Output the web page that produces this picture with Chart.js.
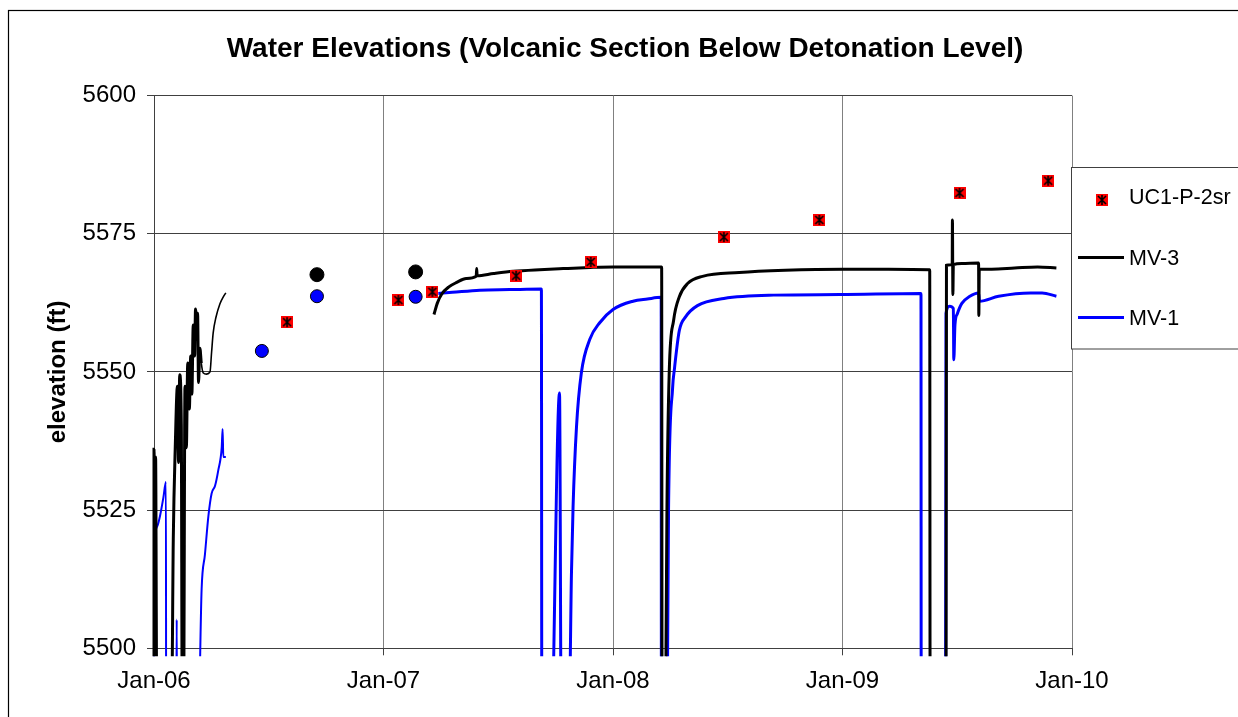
<!DOCTYPE html>
<html>
<head>
<meta charset="utf-8">
<title>Water Elevations</title>
<script src="https://cdn.jsdelivr.net/npm/chart.js@4.4.1/dist/chart.umd.min.js"></script>
<style>
  html, body { margin: 0; padding: 0; background: #fff; }
  #wrap { width: 1238px; height: 717px; }
</style>
</head>
<body>
<div id="wrap"><canvas id="elevChart" width="1238" height="717"></canvas></div>
<script>
// x values are decimal years, y values are elevation in ft
// 5480/5490 = trace runs off the bottom of the plot (clipped), null = no record
const xTickLabels = ['Jan-06', 'Jan-07', 'Jan-08', 'Jan-09', 'Jan-10'];

const uc1 = [
  [2006.580, 5559.0], [2007.065, 5563.0], [2007.213, 5564.5], [2007.578, 5567.4],
  [2007.903, 5569.9], [2008.483, 5574.4], [2008.899, 5577.5], [2009.510, 5582.4],
  [2009.896, 5584.6]
];

// hand measurements (not in legend)
const mv3Hand = [[2006.710, 5567.6], [2007.140, 5568.1]];
const mv1Hand = [[2006.470, 5553.8], [2006.710, 5563.7], [2007.140, 5563.6]];

const mv3 = [
  [2006.000, 5490], [2006.000, 5536.0], [2006.004, 5520.0], [2006.007, 5534.6], [2006.012, 5490],
  [2006.077, 5490], [2006.084, 5519.7], [2006.093, 5537.0], [2006.102, 5547.4], [2006.107, 5533.6],
  [2006.112, 5549.5], [2006.119, 5540.5], [2006.123, 5490], [2006.129, 5490], [2006.135, 5547.4],
  [2006.141, 5536.3], [2006.147, 5551.6], [2006.154, 5543.3], [2006.160, 5552.9], [2006.165, 5546.0],
  [2006.171, 5558.5], [2006.177, 5552.9], [2006.181, 5561.4], [2006.186, 5557.8], [2006.190, 5560.6],
  [2006.194, 5548.1], [2006.200, 5554.3], [2006.206, 5551.6], [2006.215, 5549.8], [2006.229, 5549.6],
  [2006.244, 5550.0], [2006.251, 5553.6], [2006.258, 5557.1], [2006.270, 5559.9], [2006.287, 5562.3],
  [2006.302, 5563.6], [2006.313, 5564.3],
  [2006.800, null],
  [2007.220, 5560.4], [2007.235, 5562.5], [2007.254, 5564.1], [2007.285, 5565.4], [2007.319, 5566.2],
  [2007.360, 5566.9], [2007.404, 5567.3], [2007.406, 5568.7], [2007.408, 5567.4], [2007.480, 5567.8],
  [2007.565, 5568.2], [2007.680, 5568.5], [2007.783, 5568.7], [2007.900, 5568.9], [2008.000, 5569.0],
  [2008.100, 5569.0], [2008.212, 5569.0], [2008.214, 5480],
  [2008.229, 5480], [2008.231, 5500.0], [2008.235, 5525.0], [2008.245, 5550.0], [2008.264, 5559.3],
  [2008.289, 5563.6], [2008.325, 5566.0], [2008.390, 5567.3], [2008.550, 5568.0], [2008.750, 5568.4],
  [2009.000, 5568.6], [2009.200, 5568.6], [2009.380, 5568.5], [2009.382, 5480],
  [2009.451, 5480], [2009.453, 5569.3], [2009.478, 5569.4], [2009.479, 5577.5], [2009.481, 5564.0],
  [2009.483, 5569.4], [2009.520, 5569.6], [2009.593, 5569.7], [2009.594, 5560.2], [2009.596, 5568.6],
  [2009.650, 5568.6], [2009.750, 5568.8], [2009.850, 5569.0], [2009.932, 5568.8]
];

const mv1 = [
  [2006.000, 5495], [2006.000, 5508.0], [2006.004, 5519.7], [2006.0145, 5522.1], [2006.026, 5523.9],
  [2006.041, 5527.3], [2006.052, 5530.1], [2006.053, 5480],
  [2006.096, 5480], [2006.099, 5505.2], [2006.101, 5480],
  [2006.190, 5480], [2006.2075, 5510.7], [2006.222, 5517.0], [2006.237, 5523.9], [2006.251, 5528.0],
  [2006.266, 5529.4], [2006.280, 5532.2], [2006.295, 5536.3], [2006.299, 5539.7], [2006.302, 5534.6],
  [2006.313, 5534.6],
  [2006.800, null],
  [2007.239, 5564.2], [2007.300, 5564.4], [2007.420, 5564.8], [2007.550, 5564.9], [2007.688, 5565.0],
  [2007.690, 5480],
  [2007.728, 5480], [2007.767, 5546.2], [2007.775, 5480],
  [2007.806, 5480], [2007.819, 5513.6], [2007.826, 5525.6], [2007.841, 5540.1], [2007.862, 5549.8],
  [2007.899, 5555.9], [2007.942, 5558.9], [2008.000, 5561.3], [2008.087, 5562.8], [2008.150, 5563.2],
  [2008.210, 5563.5], [2008.211, 5480],
  [2008.236, 5480], [2008.238, 5500.0], [2008.242, 5525.0], [2008.260, 5547.3], [2008.267, 5550.3],
  [2008.289, 5557.5], [2008.317, 5560.0], [2008.368, 5562.0], [2008.483, 5563.3], [2008.700, 5563.9],
  [2008.988, 5564.0], [2009.342, 5564.2], [2009.343, 5480],
  [2009.449, 5480], [2009.451, 5560.6], [2009.466, 5561.9], [2009.483, 5561.5], [2009.485, 5552.2],
  [2009.490, 5558.5], [2009.500, 5560.5], [2009.520, 5562.4], [2009.555, 5563.7], [2009.593, 5564.3],
  [2009.597, 5562.8], [2009.680, 5563.7], [2009.820, 5564.3], [2009.870, 5564.3], [2009.932, 5563.7]
];

function toXY(arr) {
  return arr.map(p => ({ x: p[0], y: p[1] }));
}

// red square with black asterisk, like the Excel marker
const uc1Marker = document.createElement('canvas');
uc1Marker.width = 12;
uc1Marker.height = 12;
(function () {
  const c = uc1Marker.getContext('2d');
  c.fillStyle = '#ff0000';
  c.fillRect(0, 0, 12, 12);
  c.strokeStyle = '#000';
  c.lineWidth = 1.6;
  c.beginPath();
  c.moveTo(2, 2); c.lineTo(10, 10);
  c.moveTo(10, 2); c.lineTo(2, 10);
  c.moveTo(6, 1); c.lineTo(6, 11);
  c.stroke();
})();

const FONT = "'Liberation Sans', Arial, sans-serif";
Chart.defaults.font.family = FONT;
Chart.defaults.color = '#000';

const lineClip = { left: 2, top: 0, right: 0, bottom: 8 };

// white page + outer chart frame
const framePlugin = {
  id: 'frame',
  beforeDraw(chart) {
    const c = chart.ctx;
    c.save();
    c.fillStyle = '#fff';
    c.fillRect(0, 0, chart.width, chart.height);
    c.strokeStyle = '#000';
    c.lineWidth = 1.2;
    c.strokeRect(8.5, 10.5, 1300, 800);
    c.restore();
  }
};

// boxed legend on the right, Excel style
const boxLegend = {
  id: 'boxLegend',
  afterDraw(chart) {
    const c = chart.ctx;
    c.save();
    c.fillStyle = '#fff';
    c.fillRect(1071.5, 167.5, 200, 181.5);
    c.strokeStyle = '#404040';
    c.lineWidth = 1;
    c.strokeRect(1071.5, 167.5, 200, 181.5);

    c.drawImage(uc1Marker, 1096, 194);

    c.lineWidth = 3;
    c.strokeStyle = '#000';
    c.beginPath(); c.moveTo(1078, 257.5); c.lineTo(1124, 257.5); c.stroke();
    c.strokeStyle = '#0000ff';
    c.beginPath(); c.moveTo(1078, 317.5); c.lineTo(1124, 317.5); c.stroke();

    c.fillStyle = '#000';
    c.font = '21.5px ' + FONT;
    c.textBaseline = 'middle';
    c.textAlign = 'left';
    c.fillText('UC1-P-2sr', 1129, 198);
    c.fillText('MV-3', 1129, 259);
    c.fillText('MV-1', 1129, 319);
    c.restore();
  }
};

const ctx = document.getElementById('elevChart').getContext('2d');
const elevChart = new Chart(ctx, {
  type: 'scatter',
  data: {
    datasets: [
      {
        label: 'UC1-P-2sr',
        data: toXY(uc1),
        pointStyle: uc1Marker,
        pointRadius: 6,
        pointHoverRadius: 6
      },
      {
        label: 'MV-3 (hand)',
        data: toXY(mv3Hand),
        pointStyle: 'circle',
        pointRadius: 7,
        backgroundColor: '#000',
        borderColor: '#000',
        borderWidth: 1
      },
      {
        label: 'MV-1 (hand)',
        data: toXY(mv1Hand),
        pointStyle: 'circle',
        pointRadius: 6.5,
        backgroundColor: '#0000ff',
        borderColor: '#000',
        borderWidth: 1
      },
      {
        label: 'MV-3',
        type: 'line',
        data: toXY(mv3),
        borderColor: '#000',
        borderWidth: 3,
        pointRadius: 0,
        cubicInterpolationMode: 'monotone',
        spanGaps: false,
        clip: lineClip,
        segment: {
          borderWidth: s => {
            const x = s.p0.parsed.x;
            if (x < 2006.205) return 3;
            if (x < 2007) return 1.6;
            return 3;
          }
        }
      },
      {
        label: 'MV-1',
        type: 'line',
        data: toXY(mv1),
        borderColor: '#0000ff',
        borderWidth: 3,
        pointRadius: 0,
        cubicInterpolationMode: 'monotone',
        spanGaps: false,
        clip: lineClip,
        segment: {
          borderWidth: s => (s.p0.parsed.x < 2007 ? 2 : 3)
        }
      }
    ]
  },
  options: {
    responsive: false,
    animation: false,
    events: [],
    layout: { padding: { left: 12, right: 0, top: 0, bottom: 0 } },
    plugins: {
      legend: { display: false },
      tooltip: { enabled: false },
      title: {
        display: true,
        text: 'Water Elevations (Volcanic Section Below Detonation Level)',
        color: '#000',
        font: { size: 28, weight: 'bold', lineHeight: 1.2 },
        padding: { top: 32, bottom: 30 }
      }
    },
    scales: {
      x: {
        type: 'linear',
        min: 2006,
        max: 2010,
        afterFit: s => { s.height = 68.7; },
        ticks: {
          stepSize: 1,
          padding: 12,
          maxRotation: 0,
          font: { size: 24 },
          callback: v => xTickLabels[Math.round(v - 2006)]
        },
        grid: { color: '#808080', tickColor: '#404040', tickLength: 7, lineWidth: 1 },
        border: { color: '#404040', width: 1 }
      },
      y: {
        type: 'linear',
        min: 5500,
        max: 5600,
        afterFit: s => { s.width = 142; },
        ticks: {
          stepSize: 25,
          padding: 11,
          font: { size: 24 },
          callback: v => String(v)
        },
        grid: { color: '#404040', tickColor: '#404040', tickLength: 7, lineWidth: 1 },
        border: { color: '#404040', width: 1 },
        title: {
          display: true,
          text: 'elevation (ft)',
          color: '#000',
          font: { size: 24, weight: 'bold', lineHeight: 1.2 },
          padding: { top: 32, bottom: 0 }
        }
      },
      yRight: {
        type: 'linear',
        position: 'right',
        min: 5500,
        max: 5600,
        afterFit: s => { s.width = 166; },
        ticks: { display: false },
        grid: { display: false, drawTicks: false },
        border: { display: false }
      }
    }
  },
  plugins: [framePlugin, boxLegend]
});
</script>
</body>
</html>
